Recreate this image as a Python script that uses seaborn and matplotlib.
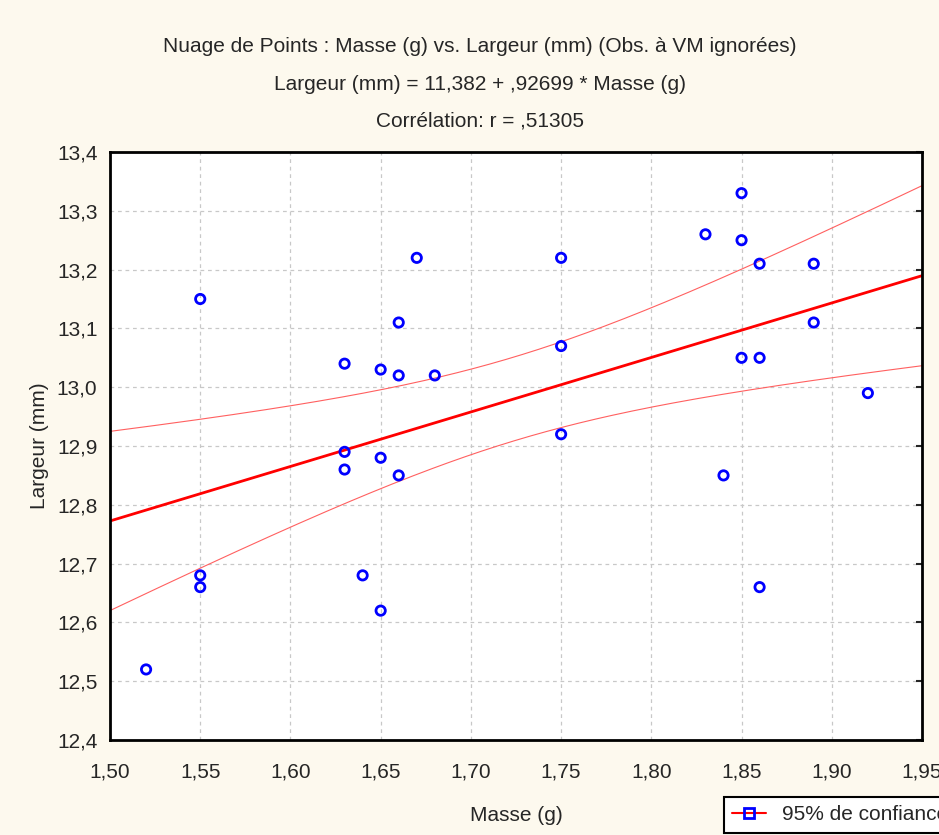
import matplotlib
matplotlib.use("Agg")
import matplotlib.pyplot as plt
from matplotlib.lines import Line2D
from matplotlib.ticker import FuncFormatter, MultipleLocator
import numpy as np
import pandas as pd
import seaborn as sns
sns.set_style("white")
plt.rcParams['font.family'] = ['Liberation Sans', 'DejaVu Sans']

# data
masse = [1.52, 1.55, 1.55, 1.55, 1.63, 1.63, 1.63, 1.64, 1.65, 1.65,
         1.65, 1.66, 1.66, 1.66, 1.67, 1.68, 1.75, 1.75, 1.75, 1.83,
         1.84, 1.85, 1.85, 1.85, 1.86, 1.86, 1.86, 1.89, 1.89, 1.92]
largeur = [12.52, 13.15, 12.68, 12.66, 13.04, 12.89, 12.86, 12.68, 13.03, 12.88,
           12.62, 13.11, 13.02, 12.85, 13.22, 13.02, 13.22, 13.07, 12.92, 13.26,
           12.85, 13.33, 13.25, 13.05, 13.21, 13.05, 12.66, 13.21, 13.11, 12.99]
intercept = 11.382
slope = 0.92699
r_value = ",51305"
t_crit = 2.0484  # t(0.975, df=28)

df = pd.DataFrame({'Masse': masse, 'Largeur': largeur})

# regression line and 95% confidence band of the mean
xs = np.linspace(1.50, 1.95, 200)
n = len(df)
fit = intercept + slope * df['Masse']
s = np.sqrt(((df['Largeur'] - fit) ** 2).sum() / (n - 2))
xbar = df['Masse'].mean()
sxx = ((df['Masse'] - xbar) ** 2).sum()
yhat = intercept + slope * xs
half = t_crit * s * np.sqrt(1 / n + (xs - xbar) ** 2 / sxx)
bands = pd.DataFrame({'x': xs, 'fit': yhat, 'lo': yhat - half, 'hi': yhat + half})

bg = '#fdf9ee'
fs = 15
fig = plt.figure(figsize=(9.39, 8.35), dpi=100, facecolor=bg)
ax = fig.add_axes([110 / 939, 1 - 740 / 835, 812 / 939, 588 / 835])
ax.set_facecolor('white')

sns.lineplot(data=bands, x='x', y='hi', ax=ax, color='#ff6060', linewidth=0.8)
sns.lineplot(data=bands, x='x', y='lo', ax=ax, color='#ff6060', linewidth=0.8)
sns.lineplot(data=bands, x='x', y='fit', ax=ax, color='red', linewidth=2)
sns.scatterplot(data=df, x='Masse', y='Largeur', ax=ax, marker='o', s=45,
                facecolors='none', edgecolor='blue', linewidth=2, zorder=5)

ax.set_xlim(1.50, 1.95)
ax.set_ylim(12.4, 13.4)
ax.xaxis.set_major_locator(MultipleLocator(0.05))
ax.yaxis.set_major_locator(MultipleLocator(0.1))
ax.xaxis.set_major_formatter(FuncFormatter(lambda v, p: f"{v:.2f}".replace('.', ',')))
ax.yaxis.set_major_formatter(FuncFormatter(lambda v, p: f"{v:.1f}".replace('.', ',')))
ax.tick_params(direction='in', length=4, width=1.5, labelsize=fs,
               right=True, top=False)
ax.tick_params(axis='x', pad=16)
ax.tick_params(axis='y', pad=9)
ax.grid(True, color='#c8c8c8', linestyle=(0, (3, 3)), linewidth=0.9)
for sp in ax.spines.values():
    sp.set_linewidth(2)
    sp.set_color('black')

ax.set_xlabel('Masse (g)', fontsize=fs, labelpad=18)
ax.set_ylabel('Largeur (mm)', fontsize=fs, labelpad=6)

cx = 480 / 939
fig.text(cx, 1 - 46 / 835, "Nuage de Points : Masse (g) vs. Largeur (mm) (Obs. à VM ignorées)",
         ha='center', va='center', fontsize=fs)
fig.text(cx, 1 - 84 / 835, f"Largeur (mm) = {intercept:.3f} + ,{str(slope).split('.')[1]} * Masse (g)".replace('.', ','),
         ha='center', va='center', fontsize=fs)
fig.text(cx, 1 - 121 / 835, f"Corrélation: r = {r_value}",
         ha='center', va='center', fontsize=fs)

handle = Line2D([], [], color='red', linewidth=1.5, marker='s', markersize=7,
                markerfacecolor='none', markeredgecolor='blue', markeredgewidth=2)
leg = fig.legend([handle], ['95% de confiance'], loc='upper left',
                 bbox_to_anchor=(724 / 939, 1 - 797 / 835), bbox_transform=fig.transFigure,
                 borderaxespad=0, fancybox=False, edgecolor='black', fontsize=fs,
                 handlelength=1.6, framealpha=1)
leg.get_frame().set_linewidth(1.5)
leg.get_frame().set_facecolor('white')

fig.savefig('out.png', dpi=100, facecolor=bg)
